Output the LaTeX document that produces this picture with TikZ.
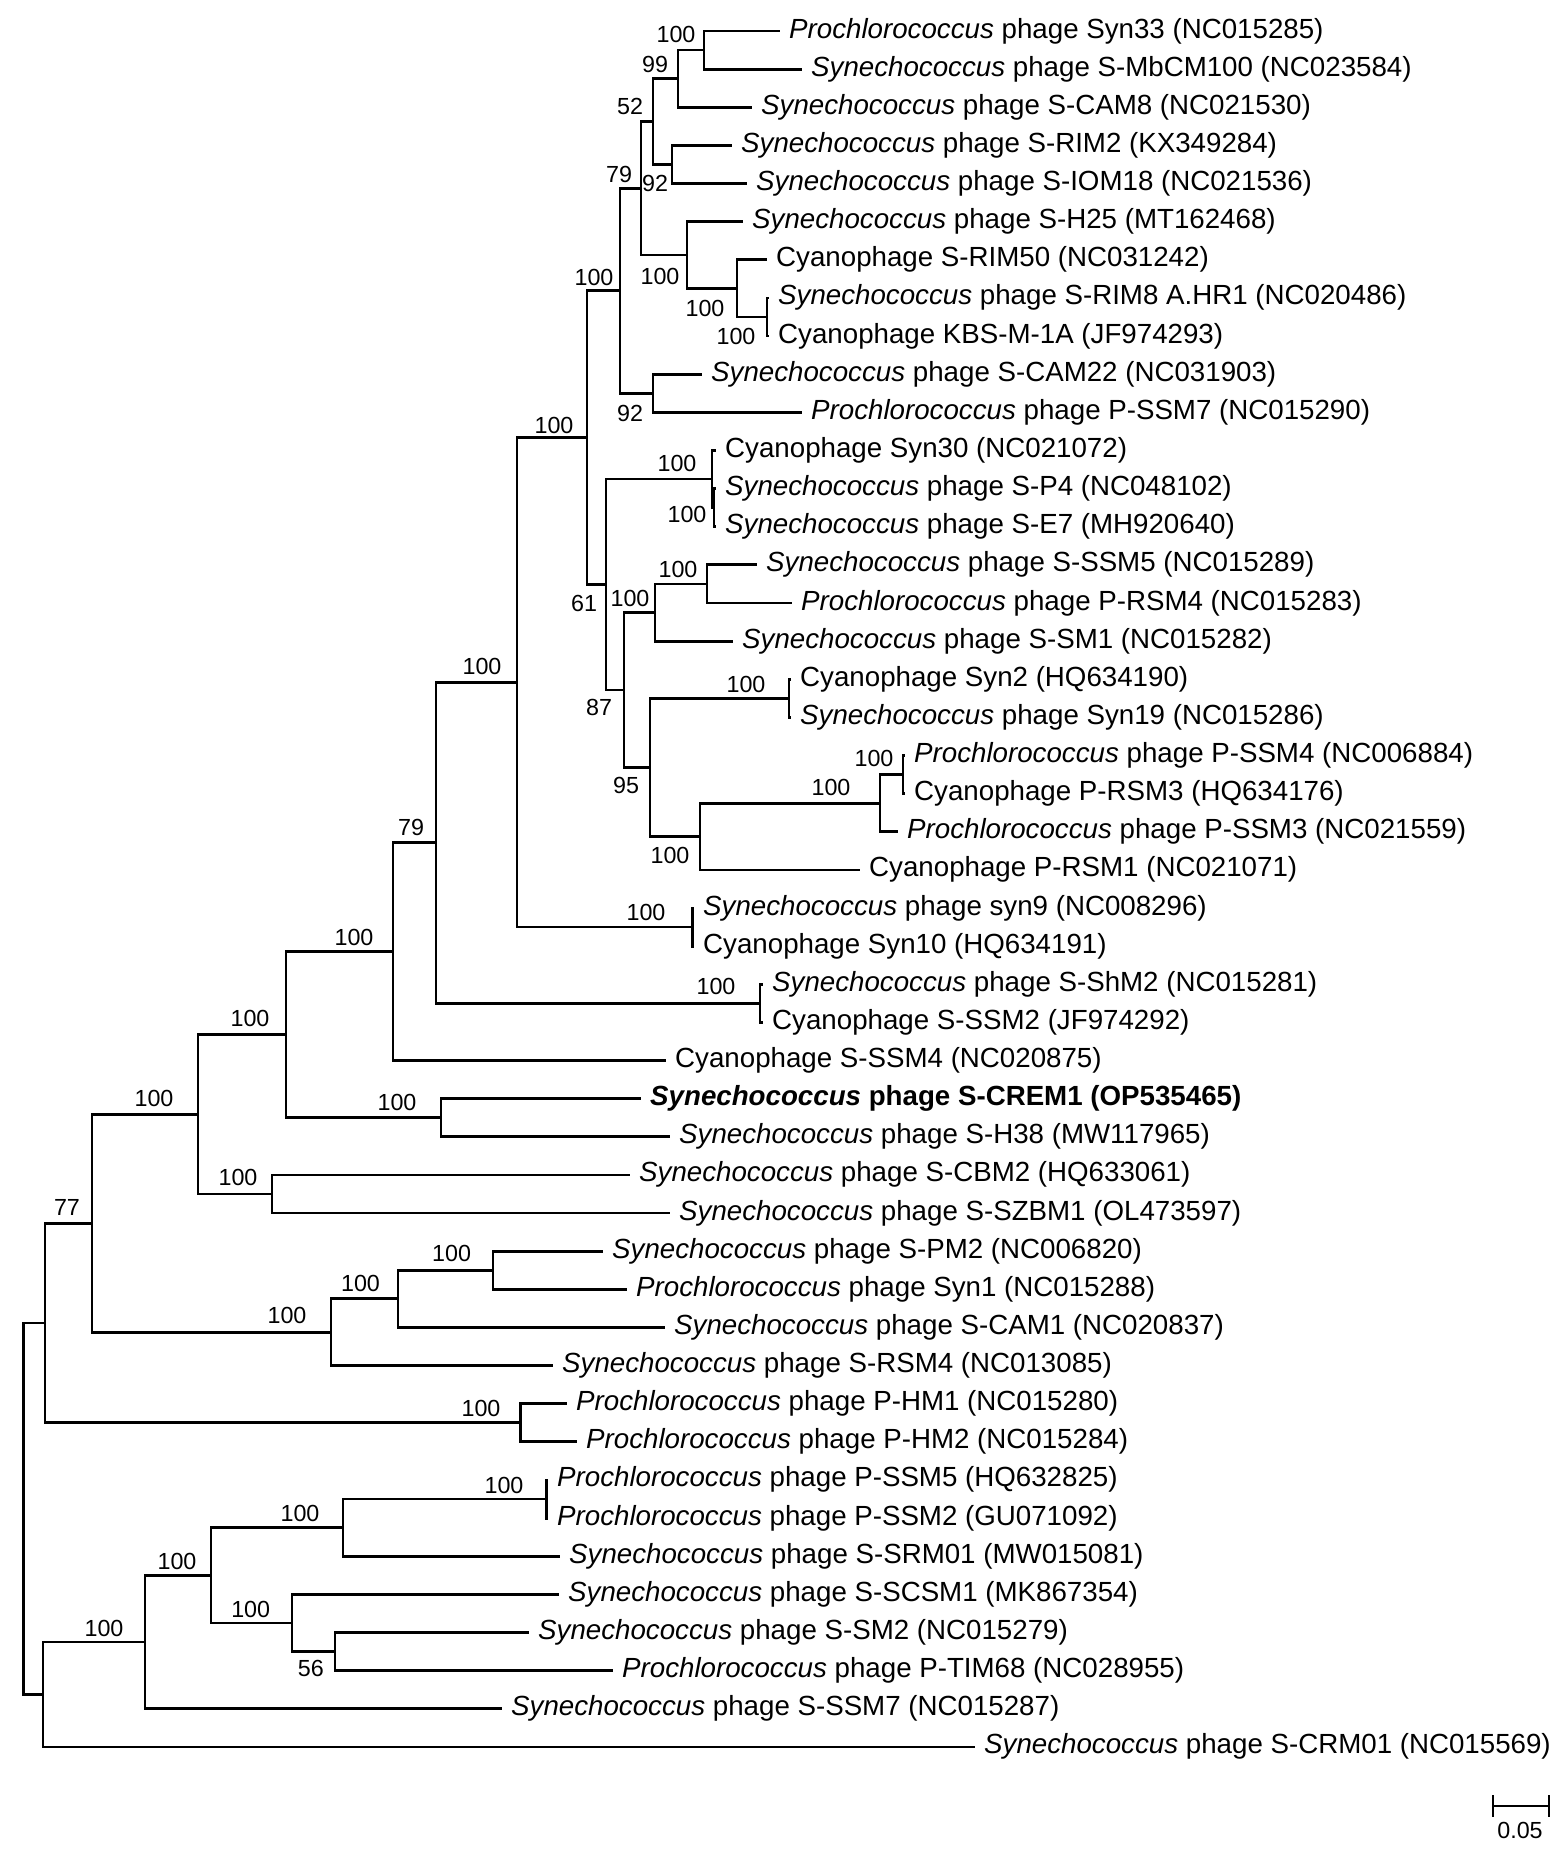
\documentclass[tikz,border=0pt]{standalone}
\usepackage{fontspec}
\setmainfont{Liberation Sans}
\begin{document}
\begin{tikzpicture}[x=1pt,y=-1pt,
  br/.style={line width=2.8pt},
  leaf/.style={anchor=base west,inner sep=0pt,font=\fontsize{27.7}{30}\selectfont},
  sup/.style={anchor=center,inner sep=0pt,font=\fontsize{23.3}{25}\selectfont}]
\path[use as bounding box] (0,0) rectangle (1568,1853);
% leaf tips
\coordinate (t0) at (780,31.0);
\coordinate (t1) at (802,69.1);
\coordinate (t2) at (752,107.3);
\coordinate (t3) at (732,145.4);
\coordinate (t4) at (747,183.5);
\coordinate (t5) at (743,221.7);
\coordinate (t6) at (767,259.8);
\coordinate (t7) at (769,297.9);
\coordinate (t8) at (769,336.0);
\coordinate (t9) at (702,374.2);
\coordinate (t10) at (802,412.3);
\coordinate (t11) at (716,450.4);
\coordinate (t12) at (716,488.6);
\coordinate (t13) at (716,526.7);
\coordinate (t14) at (757,564.8);
\coordinate (t15) at (792,603.0);
\coordinate (t16) at (733,641.1);
\coordinate (t17) at (791,679.2);
\coordinate (t18) at (791,717.3);
\coordinate (t19) at (905,755.5);
\coordinate (t20) at (905,793.6);
\coordinate (t21) at (898,831.7);
\coordinate (t22) at (860,869.9);
\coordinate (t23) at (694,908.0);
\coordinate (t24) at (694,946.1);
\coordinate (t25) at (763,984.3);
\coordinate (t26) at (763,1022.4);
\coordinate (t27) at (666,1060.5);
\coordinate (t28) at (641,1098.6);
\coordinate (t29) at (670,1136.8);
\coordinate (t30) at (630,1174.9);
\coordinate (t31) at (670,1213.0);
\coordinate (t32) at (603,1251.2);
\coordinate (t33) at (627,1289.3);
\coordinate (t34) at (665,1327.4);
\coordinate (t35) at (553,1365.6);
\coordinate (t36) at (567,1403.7);
\coordinate (t37) at (577,1441.8);
\coordinate (t38) at (548,1479.9);
\coordinate (t39) at (548,1518.1);
\coordinate (t40) at (560,1556.2);
\coordinate (t41) at (559,1594.3);
\coordinate (t42) at (529,1632.5);
\coordinate (t43) at (613,1670.6);
\coordinate (t44) at (502,1708.7);
\coordinate (t45) at (975,1746.9);
% internal nodes
\coordinate (nA) at (704,50.05);
\coordinate (nB) at (678,78.7);
\coordinate (nC) at (672,164.45);
\coordinate (nD) at (653,121.6);
\coordinate (nE) at (767,316.95);
\coordinate (nF) at (737,288.4);
\coordinate (nG) at (687,255.0);
\coordinate (nH) at (641,188.3);
\coordinate (nI) at (653,393.25);
\coordinate (nJ) at (620,290.8);
\coordinate (nK) at (714,507.65);
\coordinate (nL) at (712,479.0);
\coordinate (nM) at (707,583.9);
\coordinate (nN) at (655,612.5);
\coordinate (nO) at (789,698.25);
\coordinate (nP) at (903,774.55);
\coordinate (nQ) at (880,803.1);
\coordinate (nR) at (700,836.5);
\coordinate (nS) at (650,767.4);
\coordinate (nT) at (624,689.95);
\coordinate (nU) at (606,584.5);
\coordinate (nV) at (587,437.6);
\coordinate (nW) at (692.5,927.05);
\coordinate (nX) at (517,682.3);
\coordinate (nY) at (760,1003.35);
\coordinate (nZ) at (436,842.8);
\coordinate (n79) at (393,951.65);
\coordinate (nCR) at (441,1117.7);
\coordinate (n286) at (286,1034.7);
\coordinate (nCB) at (272,1194);
\coordinate (n198) at (198,1114.3);
\coordinate (nPM) at (493,1270.25);
\coordinate (n398) at (398,1298.8);
\coordinate (n331) at (331,1332.2);
\coordinate (n92) at (92,1223.25);
\coordinate (nHM) at (520.5,1422.75);
\coordinate (n45) at (45,1323);
\coordinate (nSS) at (546.5,1499);
\coordinate (n343) at (343,1527.6);
\coordinate (n335) at (335,1651.55);
\coordinate (n292) at (292,1622.9);
\coordinate (n211) at (211,1575.25);
\coordinate (n145) at (145,1642);
\coordinate (n43) at (43,1694.45);
\coordinate (root) at (23.7,1508.7);
% branches
\draw[br] (nA) |- (t0); \draw[br] (nA) |- (t1);
\draw[br] (nB) |- (nA); \draw[br] (nB) |- (t2);
\draw[br] (nC) |- (t3); \draw[br] (nC) |- (t4);
\draw[br] (nD) |- (nB); \draw[br] (nD) |- (nC);
\draw[br] (nE) |- (t7); \draw[br] (nE) |- (t8);
\draw[br] (nF) |- (t6); \draw[br] (nF) |- (nE);
\draw[br] (nG) |- (t5); \draw[br] (nG) |- (nF);
\draw[br] (nH) |- (nD); \draw[br] (nH) |- (nG);
\draw[br] (nI) |- (t9); \draw[br] (nI) |- (t10);
\draw[br] (nJ) |- (nH); \draw[br] (nJ) |- (nI);
\draw[br] (nK) |- (t12); \draw[br] (nK) |- (t13);
\draw[br] (nL) |- (t11); \draw[br] (nL) |- (nK);
\draw[br] (nM) |- (t14); \draw[br] (nM) |- (t15);
\draw[br] (nN) |- (nM); \draw[br] (nN) |- (t16);
\draw[br] (nO) |- (t17); \draw[br] (nO) |- (t18);
\draw[br] (nP) |- (t19); \draw[br] (nP) |- (t20);
\draw[br] (nQ) |- (nP); \draw[br] (nQ) |- (t21);
\draw[br] (nR) |- (nQ); \draw[br] (nR) |- (t22);
\draw[br] (nS) |- (nO); \draw[br] (nS) |- (nR);
\draw[br] (nT) |- (nN); \draw[br] (nT) |- (nS);
\draw[br] (nU) |- (nL); \draw[br] (nU) |- (nT);
\draw[br] (nV) |- (nJ); \draw[br] (nV) |- (nU);
\draw[br] (nW) |- (t23); \draw[br] (nW) |- (t24);
\draw[br] (nX) |- (nV); \draw[br] (nX) |- (nW);
\draw[br] (nY) |- (t25); \draw[br] (nY) |- (t26);
\draw[br] (nZ) |- (nX); \draw[br] (nZ) |- (nY);
\draw[br] (n79) |- (nZ); \draw[br] (n79) |- (t27);
\draw[br] (nCR) |- (t28); \draw[br] (nCR) |- (t29);
\draw[br] (n286) |- (n79); \draw[br] (n286) |- (nCR);
\draw[br] (nCB) |- (t30); \draw[br] (nCB) |- (t31);
\draw[br] (n198) |- (n286); \draw[br] (n198) |- (nCB);
\draw[br] (nPM) |- (t32); \draw[br] (nPM) |- (t33);
\draw[br] (n398) |- (nPM); \draw[br] (n398) |- (t34);
\draw[br] (n331) |- (n398); \draw[br] (n331) |- (t35);
\draw[br] (n92) |- (n198); \draw[br] (n92) |- (n331);
\draw[br] (nHM) |- (t36); \draw[br] (nHM) |- (t37);
\draw[br] (n45) |- (n92); \draw[br] (n45) |- (nHM);
\draw[br] (nSS) |- (t38); \draw[br] (nSS) |- (t39);
\draw[br] (n343) |- (nSS); \draw[br] (n343) |- (t40);
\draw[br] (n335) |- (t42); \draw[br] (n335) |- (t43);
\draw[br] (n292) |- (t41); \draw[br] (n292) |- (n335);
\draw[br] (n211) |- (n343); \draw[br] (n211) |- (n292);
\draw[br] (n145) |- (n211); \draw[br] (n145) |- (t44);
\draw[br] (n43) |- (n145); \draw[br] (n43) |- (t45);
\draw[br] (root) |- (n45); \draw[br] (root) |- (n43);
% leaf labels
\node[leaf] (L0) at ([xshift=9pt,yshift=-7pt]t0) {\textit{Prochlorococcus} phage Syn33 (NC015285)};
\node[leaf] (L1) at ([xshift=9pt,yshift=-7pt]t1) {\textit{Synechococcus} phage S-MbCM100 (NC023584)};
\node[leaf] (L2) at ([xshift=9pt,yshift=-7pt]t2) {\textit{Synechococcus} phage S-CAM8 (NC021530)};
\node[leaf] (L3) at ([xshift=9pt,yshift=-7pt]t3) {\textit{Synechococcus} phage S-RIM2 (KX349284)};
\node[leaf] (L4) at ([xshift=9pt,yshift=-7pt]t4) {\textit{Synechococcus} phage S-IOM18 (NC021536)};
\node[leaf] (L5) at ([xshift=9pt,yshift=-7pt]t5) {\textit{Synechococcus} phage S-H25 (MT162468)};
\node[leaf] (L6) at ([xshift=9pt,yshift=-7pt]t6) {Cyanophage S-RIM50 (NC031242)};
\node[leaf] (L7) at ([xshift=9pt,yshift=-7pt]t7) {\textit{Synechococcus} phage S-RIM8 A.HR1 (NC020486)};
\node[leaf] (L8) at ([xshift=9pt,yshift=-7pt]t8) {Cyanophage KBS-M-1A (JF974293)};
\node[leaf] (L9) at ([xshift=9pt,yshift=-7pt]t9) {\textit{Synechococcus} phage S-CAM22 (NC031903)};
\node[leaf] (L10) at ([xshift=9pt,yshift=-7pt]t10) {\textit{Prochlorococcus} phage P-SSM7 (NC015290)};
\node[leaf] (L11) at ([xshift=9pt,yshift=-7pt]t11) {Cyanophage Syn30 (NC021072)};
\node[leaf] (L12) at ([xshift=9pt,yshift=-7pt]t12) {\textit{Synechococcus} phage S-P4 (NC048102)};
\node[leaf] (L13) at ([xshift=9pt,yshift=-7pt]t13) {\textit{Synechococcus} phage S-E7 (MH920640)};
\node[leaf] (L14) at ([xshift=9pt,yshift=-7pt]t14) {\textit{Synechococcus} phage S-SSM5 (NC015289)};
\node[leaf] (L15) at ([xshift=9pt,yshift=-7pt]t15) {\textit{Prochlorococcus} phage P-RSM4 (NC015283)};
\node[leaf] (L16) at ([xshift=9pt,yshift=-7pt]t16) {\textit{Synechococcus} phage S-SM1 (NC015282)};
\node[leaf] (L17) at ([xshift=9pt,yshift=-7pt]t17) {Cyanophage Syn2 (HQ634190)};
\node[leaf] (L18) at ([xshift=9pt,yshift=-7pt]t18) {\textit{Synechococcus} phage Syn19 (NC015286)};
\node[leaf] (L19) at ([xshift=9pt,yshift=-7pt]t19) {\textit{Prochlorococcus} phage P-SSM4 (NC006884)};
\node[leaf] (L20) at ([xshift=9pt,yshift=-7pt]t20) {Cyanophage P-RSM3 (HQ634176)};
\node[leaf] (L21) at ([xshift=9pt,yshift=-7pt]t21) {\textit{Prochlorococcus} phage P-SSM3 (NC021559)};
\node[leaf] (L22) at ([xshift=9pt,yshift=-7pt]t22) {Cyanophage P-RSM1 (NC021071)};
\node[leaf] (L23) at ([xshift=9pt,yshift=-7pt]t23) {\textit{Synechococcus} phage syn9 (NC008296)};
\node[leaf] (L24) at ([xshift=9pt,yshift=-7pt]t24) {Cyanophage Syn10 (HQ634191)};
\node[leaf] (L25) at ([xshift=9pt,yshift=-7pt]t25) {\textit{Synechococcus} phage S-ShM2 (NC015281)};
\node[leaf] (L26) at ([xshift=9pt,yshift=-7pt]t26) {Cyanophage S-SSM2 (JF974292)};
\node[leaf] (L27) at ([xshift=9pt,yshift=-7pt]t27) {Cyanophage S-SSM4 (NC020875)};
\node[leaf] (L28) at ([xshift=9pt,yshift=-7pt]t28) {\bfseries\textit{Synechococcus} phage S-CREM1 (OP535465)};
\node[leaf] (L29) at ([xshift=9pt,yshift=-7pt]t29) {\textit{Synechococcus} phage S-H38 (MW117965)};
\node[leaf] (L30) at ([xshift=9pt,yshift=-7pt]t30) {\textit{Synechococcus} phage S-CBM2 (HQ633061)};
\node[leaf] (L31) at ([xshift=9pt,yshift=-7pt]t31) {\textit{Synechococcus} phage S-SZBM1 (OL473597)};
\node[leaf] (L32) at ([xshift=9pt,yshift=-7pt]t32) {\textit{Synechococcus} phage S-PM2 (NC006820)};
\node[leaf] (L33) at ([xshift=9pt,yshift=-7pt]t33) {\textit{Prochlorococcus} phage Syn1 (NC015288)};
\node[leaf] (L34) at ([xshift=9pt,yshift=-7pt]t34) {\textit{Synechococcus} phage S-CAM1 (NC020837)};
\node[leaf] (L35) at ([xshift=9pt,yshift=-7pt]t35) {\textit{Synechococcus} phage S-RSM4 (NC013085)};
\node[leaf] (L36) at ([xshift=9pt,yshift=-7pt]t36) {\textit{Prochlorococcus} phage P-HM1 (NC015280)};
\node[leaf] (L37) at ([xshift=9pt,yshift=-7pt]t37) {\textit{Prochlorococcus} phage P-HM2 (NC015284)};
\node[leaf] (L38) at ([xshift=9pt,yshift=-7pt]t38) {\textit{Prochlorococcus} phage P-SSM5 (HQ632825)};
\node[leaf] (L39) at ([xshift=9pt,yshift=-7pt]t39) {\textit{Prochlorococcus} phage P-SSM2 (GU071092)};
\node[leaf] (L40) at ([xshift=9pt,yshift=-7pt]t40) {\textit{Synechococcus} phage S-SRM01 (MW015081)};
\node[leaf] (L41) at ([xshift=9pt,yshift=-7pt]t41) {\textit{Synechococcus} phage S-SCSM1 (MK867354)};
\node[leaf] (L42) at ([xshift=9pt,yshift=-7pt]t42) {\textit{Synechococcus} phage S-SM2 (NC015279)};
\node[leaf] (L43) at ([xshift=9pt,yshift=-7pt]t43) {\textit{Prochlorococcus} phage P-TIM68 (NC028955)};
\node[leaf] (L44) at ([xshift=9pt,yshift=-7pt]t44) {\textit{Synechococcus} phage S-SSM7 (NC015287)};
\node[leaf] (L45) at ([xshift=9pt,yshift=-7pt]t45) {\textit{Synechococcus} phage S-CRM01 (NC015569)};
% support values
\node[sup] (s1) at (676,34) {100};
\node[sup] (s2) at (655,64) {99};
\node[sup] (s3) at (630,106) {52};
\node[sup] (s4) at (619,174) {79};
\node[sup] (s5) at (655,183) {92};
\node[sup] (s6) at (660,276) {100};
\node[sup] (s7) at (705,308) {100};
\node[sup] (s8) at (736,336) {100};
\node[sup] (s9) at (594,277) {100};
\node[sup] (s10) at (630,413) {92};
\node[sup] (s11) at (554,425) {100};
\node[sup] (s12) at (677,463) {100};
\node[sup] (s13) at (687,514) {100};
\node[sup] (s14) at (678,569) {100};
\node[sup] (s15) at (584,603) {61};
\node[sup] (s16) at (630,598) {100};
\node[sup] (s17) at (599,707) {87};
\node[sup] (s18) at (626,785) {95};
\node[sup] (s19) at (746,684) {100};
\node[sup] (s20) at (874,758) {100};
\node[sup] (s21) at (831,787) {100};
\node[sup] (s22) at (670,855) {100};
\node[sup] (s23) at (646,912) {100};
\node[sup] (s24) at (716,986) {100};
\node[sup] (s25) at (482,666) {100};
\node[sup] (s26) at (411,827) {79};
\node[sup] (s27) at (354,937.5) {100};
\node[sup] (s28) at (250,1018.6) {100};
\node[sup] (s29) at (154,1098) {100};
\node[sup] (s30) at (397,1102) {100};
\node[sup] (s31) at (67,1207) {77};
\node[sup] (s32) at (238,1177) {100};
\node[sup] (s33) at (287,1315) {100};
\node[sup] (s34) at (360.5,1283) {100};
\node[sup] (s35) at (451.6,1253.6) {100};
\node[sup] (s36) at (481,1408) {100};
\node[sup] (s37) at (104,1628) {100};
\node[sup] (s38) at (177,1561) {100};
\node[sup] (s39) at (300,1513) {100};
\node[sup] (s40) at (504,1485) {100};
\node[sup] (s41) at (250.7,1609) {100};
\node[sup] (s42) at (310.8,1668) {56};
% scale bar
\coordinate (sbL) at (1493,1806);
\coordinate (sbR) at (1549,1806);
\draw[br] (sbL) -- (sbR);
\draw[br] ([yshift=11pt]sbL) -- ([yshift=-11pt]sbL);
\draw[br] ([yshift=11pt]sbR) -- ([yshift=-11pt]sbR);
\node[sup] (sbT) at (1520,1830) {0.05};
\end{tikzpicture}
\end{document}
